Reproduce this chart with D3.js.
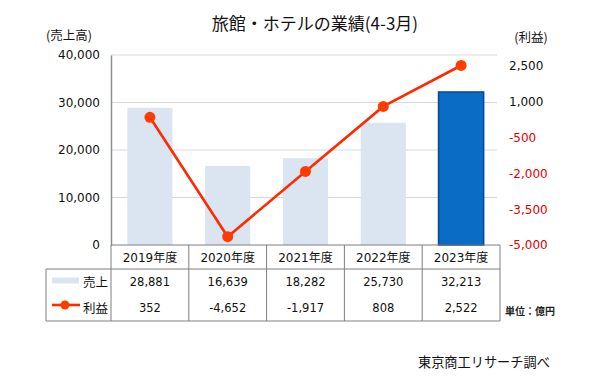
<!DOCTYPE html>
<html><head><meta charset="utf-8">
<script src="https://cdn.jsdelivr.net/npm/d3@7"></script>
<style>
html,body{margin:0;padding:0;background:#fff;}
svg{display:block;}
text{font-family:"DejaVu Sans","Noto Sans CJK JP",sans-serif;}
</style></head>
<body>
<svg id="c" width="600" height="381"></svg>
<script>
const categories = ["2019年度","2020年度","2021年度","2022年度","2023年度"];
const sales = [28881,16639,18282,25730,32213];
const profit = [352,-4652,-1917,808,2522];
const leftTicks = [0,10000,20000,30000,40000];
const rightTicks = [-5000,-3500,-2000,-500,1000,2500];
const title = "旅館・ホテルの業績(4-3月)";

const svg = d3.select("#c");
const L = 111, R = 500, T = 55, B = 245;
const jp = '"Noto Sans CJK JP","DejaVu Sans",sans-serif';
const fmt = d => d3.format(",")(d).replace("\u2212", "-");

const x = d3.scaleBand().domain(categories).range([L, R]).paddingInner(0.42).paddingOuter(0.21);
const xCol = d3.scaleBand().domain(categories).range([L, R]);
const yL = d3.scaleLinear().domain([0, 40000]).range([B, T]);
const yR = d3.scaleLinear().domain([-5000, 2500]).range([B, 66]);

// gridlines
svg.append("g").selectAll("line").data(leftTicks.filter(d => d > 0)).join("line")
  .attr("x1", L).attr("x2", 497).attr("y1", d => yL(d)).attr("y2", d => yL(d))
  .attr("stroke", "#d9d9d9").attr("stroke-width", 1);

// bars
svg.append("g").selectAll("rect").data(categories).join("rect")
  .attr("x", d => x(d)).attr("width", x.bandwidth())
  .attr("y", (d, i) => yL(sales[i])).attr("height", (d, i) => B - yL(sales[i]))
  .attr("fill", (d, i) => i === categories.length - 1 ? "#0a6cc4" : "#dbe4f1")
  .attr("stroke", (d, i) => i === categories.length - 1 ? "#0048a0" : "none")
  .attr("stroke-width", 1.5);

// left axis
const ga = svg.append("g").attr("transform", `translate(${L},0)`)
  .call(d3.axisLeft(yL).tickValues(leftTicks).tickSize(0).tickPadding(11).tickFormat(fmt));
ga.select(".domain").attr("stroke", "#8c8c8c").attr("stroke-width", 1.5);
ga.selectAll("text").attr("font-size", 12).attr("fill", "#111").style("font-family", '"DejaVu Sans",sans-serif');

// right axis
const gr = svg.append("g").attr("transform", `translate(509,0)`)
  .call(d3.axisRight(yR).tickValues(rightTicks).tickSize(0).tickPadding(0).tickFormat(fmt));
gr.select(".domain").remove();
gr.selectAll("text").attr("font-size", 12).attr("fill", d => d < 0 ? "#e00000" : "#111").style("font-family", '"DejaVu Sans",sans-serif');

// profit line
const cx = d => x(d) + x.bandwidth() / 2;
const line = d3.line().x((d, i) => cx(categories[i])).y(d => yR(d));
svg.append("path").datum(profit).attr("d", line)
  .attr("fill", "none").attr("stroke", "#ff2a00").attr("stroke-width", 2.6);
svg.append("g").selectAll("circle").data(profit).join("circle")
  .attr("cx", (d, i) => cx(categories[i])).attr("cy", d => yR(d)).attr("r", 5.5)
  .attr("fill", "#ff3c00");

// title & axis titles
svg.append("text").attr("x", 315).attr("y", 30).attr("text-anchor", "middle")
  .attr("font-size", 17).style("font-family", jp).attr("fill", "#111").text(title);
svg.append("text").attr("x", 69).attr("y", 40).attr("text-anchor", "middle")
  .attr("font-size", 12.5).style("font-family", jp).attr("fill", "#111").text("(売上高)");
svg.append("text").attr("x", 531).attr("y", 42).attr("text-anchor", "middle")
  .attr("font-size", 12.5).style("font-family", jp).attr("fill", "#111").text("(利益)");

// table
const tb = svg.append("g");
const rowH = 245, rowH2 = 269, rowBot = 321;
const bc = "#7f7f7f";
tb.append("line").attr("x1", L).attr("x2", R).attr("y1", rowH).attr("y2", rowH).attr("stroke", bc);
tb.append("line").attr("x1", 46).attr("x2", R).attr("y1", rowH2).attr("y2", rowH2).attr("stroke", bc);
tb.append("line").attr("x1", 46).attr("x2", R).attr("y1", rowBot).attr("y2", rowBot).attr("stroke", bc);
tb.append("line").attr("x1", 46).attr("x2", 46).attr("y1", rowH2).attr("y2", rowBot).attr("stroke", bc);
const edges = categories.map(c => xCol(c)).concat([R]);
tb.selectAll("line.v").data(edges).join("line").attr("class", "v")
  .attr("x1", d => d).attr("x2", d => d).attr("y1", rowH).attr("y2", rowBot).attr("stroke", bc);

const colC = d => xCol(d) + xCol.bandwidth() / 2;
tb.selectAll("text.h").data(categories).join("text").attr("class", "h")
  .attr("x", colC).attr("y", 262).attr("text-anchor", "middle").attr("font-size", 12).attr("fill", "#111").text(d => d);
tb.selectAll("text.s").data(sales).join("text").attr("class", "s")
  .attr("x", (d, i) => colC(categories[i])).attr("y", 286).attr("text-anchor", "middle").attr("font-size", 11.5).attr("fill", "#111")
  .text(fmt);
tb.selectAll("text.p").data(profit).join("text").attr("class", "p")
  .attr("x", (d, i) => colC(categories[i])).attr("y", 312).attr("text-anchor", "middle").attr("font-size", 11.5).attr("fill", "#111")
  .text(fmt);

// legend in table
tb.append("rect").attr("x", 52).attr("y", 277.5).attr("width", 27).attr("height", 6).attr("fill", "#dbe4f1");
tb.append("text").attr("x", 108).attr("y", 287).attr("text-anchor", "end").attr("font-size", 12.5).style("font-family", jp).attr("fill", "#111").text("売上");
tb.append("line").attr("x1", 52).attr("x2", 80).attr("y1", 305).attr("y2", 305).attr("stroke", "#ff2a00").attr("stroke-width", 2.6);
tb.append("circle").attr("cx", 65).attr("cy", 305).attr("r", 4.5).attr("fill", "#ff3c00");
tb.append("text").attr("x", 108).attr("y", 313).attr("text-anchor", "end").attr("font-size", 12.5).style("font-family", jp).attr("fill", "#111").text("利益");

svg.append("text").attr("x", 505).attr("y", 315).attr("font-size", 10).attr("font-weight", "bold").style("font-family", jp).attr("fill", "#222").text("単位：億円");
svg.append("text").attr("x", 418).attr("y", 367).attr("font-size", 13.2).style("font-family", jp).attr("fill", "#111").text("東京商工リサーチ調べ");
</script>
</body></html>
